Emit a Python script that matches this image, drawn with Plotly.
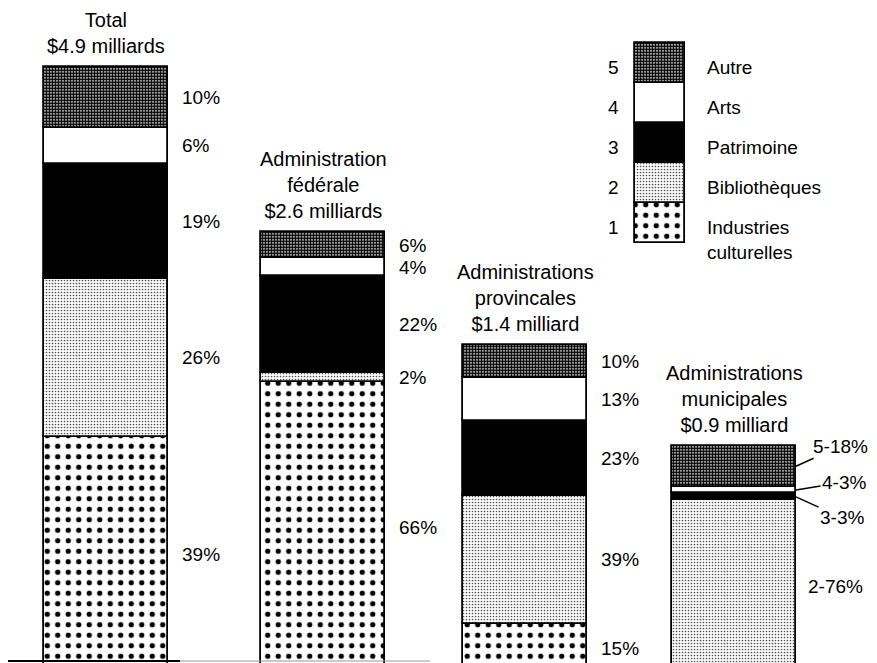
import numpy as np
import plotly.graph_objects as go

# ---------------- data ----------------
groups = ["Total", "Administration fédérale", "Administrations provincales", "Administrations municipales"]
group_titles = ["Total<br>$4.9 milliards",
                "Administration<br>fédérale<br>$2.6 milliards",
                "Administrations<br>provincales<br>$1.4 milliard",
                "Administrations<br>municipales<br>$0.9 milliard"]
totals_billion = [4.9, 2.6, 1.4, 0.9]
drawn_height = [100, 72.8, 54.1, 37.5]   # relative bar heights as drawn in the figure

# shares in % (bottom -> top stacking order)
industries = [39, 66, 15, 0]
bibliotheques = [26, 2, 39, 76]
patrimoine = [19, 22, 23, 3]
arts = [6, 4, 13, 3]
autre = [10, 6, 10, 18]

cat_names = ["Industries<br>culturelles", "Bibliothèques", "Patrimoine", "Arts", "Autre"]
cat_numbers = ["1", "2", "3", "4", "5"]

# ---------------- layout constants ----------------
W, H = 877, 663
bar_x = [106, 323, 525, 734]
bar_w = 124
legend_x = 660
legend_w = 50
legend_base = 70.96
legend_seg = 6.6
FONT = "Liberation Sans, Arial, Helvetica, sans-serif"
TITLE_SIZE = 20
LABEL_SIZE = 19

styles = [
    dict(color="white", pattern=dict(shape=".", bgcolor="white", fgcolor="black", size=10.5, solidity=0.2, fillmode="replace")),
    dict(color="white", pattern=dict(shape=".", bgcolor="white", fgcolor="#555", size=3, solidity=0.25, fillmode="replace")),
    dict(color="black"),
    dict(color="white"),
    dict(color="white", pattern=dict(shape=".", bgcolor="white", fgcolor="black", size=3, solidity=0.75, fillmode="replace")),
]

series = [industries, bibliotheques, patrimoine, arts, autre]
shares = np.array(series, dtype=float)            # 5 x 4
heights = shares / 100.0 * np.array(drawn_height)  # drawn heights
bases = np.vstack([np.zeros(4), np.cumsum(heights, axis=0)[:-1]])

fig = go.Figure()
for i in range(5):
    xs = list(bar_x) + [legend_x]
    ys = list(heights[i]) + [legend_seg]
    bs = list(bases[i]) + [legend_base + i * legend_seg]
    ws = [bar_w] * 4 + [legend_w]
    mk = dict(styles[i])
    mk["line"] = dict(color="black", width=1.8)
    fig.add_trace(go.Bar(x=xs, y=ys, base=bs, width=ws, marker=mk,
                         showlegend=False, hoverinfo="skip"))

annotations = []
# titles
for j in range(4):
    annotations.append(dict(x=bar_x[j], y=drawn_height[j], text=group_titles[j],
                            showarrow=False, yanchor="bottom", xanchor="center",
                            yshift=8, font=dict(size=TITLE_SIZE, family=FONT, color="black")))
# percent labels
for j in range(4):
    right = bar_x[j] + bar_w / 2
    for i in range(5):
        if shares[i, j] == 0:
            continue
        yc = bases[i, j] + heights[i, j] / 2
        if j == 3 and i >= 2:
            # leader-line labels for municipal small segments
            offs = {4: (44, -20), 3: (48, -8), 2: (46, 21)}[i]
            annotations.append(dict(x=right, y=yc, text=f"{cat_numbers[i]}-{int(shares[i, j])}%",
                                    showarrow=True, arrowhead=0, arrowwidth=1.5, arrowcolor="black",
                                    ax=offs[0], ay=offs[1], standoff=0,
                                    font=dict(size=LABEL_SIZE, family=FONT, color="black")))
        elif j == 3:
            annotations.append(dict(x=right + 10, y=yc, text=f"{cat_numbers[i]}-{int(shares[i, j])}%",
                                    showarrow=False, xanchor="left",
                                    font=dict(size=LABEL_SIZE, family=FONT, color="black")))
        else:
            annotations.append(dict(x=right + 12, y=yc, text=f"{int(shares[i, j])}%",
                                    showarrow=False, xanchor="left",
                                    font=dict(size=LABEL_SIZE, family=FONT, color="black")))
# legend texts
for i in range(5):
    yc = legend_base + (i + 0.5) * legend_seg
    annotations.append(dict(x=legend_x - legend_w / 2 - 14, y=yc, text=cat_numbers[i],
                            showarrow=False, xanchor="right", yshift=-4,
                            font=dict(size=LABEL_SIZE, family=FONT, color="black")))
    if i == 0:
        annotations.append(dict(x=legend_x + legend_w / 2 + 20, y=yc, text=cat_names[i],
                                showarrow=False, xanchor="left", yanchor="top", yshift=8,
                                align="left", font=dict(size=LABEL_SIZE, family=FONT, color="black")))
    else:
        annotations.append(dict(x=legend_x + legend_w / 2 + 20, y=yc, text=cat_names[i],
                                showarrow=False, xanchor="left", yshift=-4,
                                font=dict(size=LABEL_SIZE, family=FONT, color="black")))

shapes = [
    dict(type="line", xref="x", yref="paper", x0=8, x1=180, y0=0.003, y1=0.003,
         line=dict(color="black", width=2)),
    dict(type="line", xref="x", yref="paper", x0=180, x1=430, y0=0.003, y1=0.003,
         line=dict(color="#999", width=1)),
]

fig.update_layout(
    width=W, height=H, margin=dict(l=0, r=0, t=0, b=0),
    paper_bgcolor="white", plot_bgcolor="white",
    barmode="overlay", bargap=0,
    xaxis=dict(range=[0, W], visible=False, fixedrange=True),
    yaxis=dict(range=[1.65, 111.06], visible=False, fixedrange=True),
    annotations=annotations, shapes=shapes,
    font=dict(family=FONT, color="black"),
)

fig.write_html("out.html")
